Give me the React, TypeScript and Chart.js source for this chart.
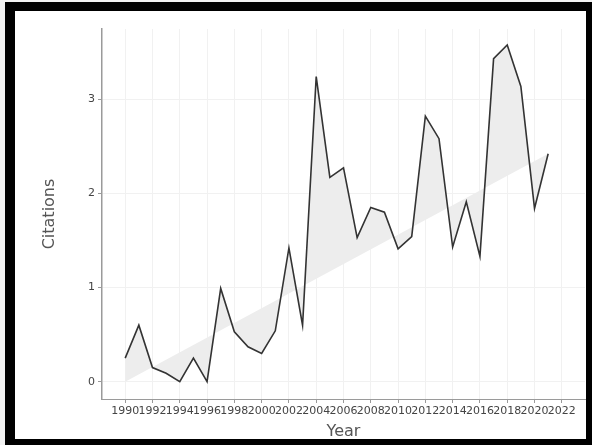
import React, { useEffect, useRef } from "react";
import { Chart, registerables } from "chart.js";

Chart.register(...registerables);

const years = [
  1990, 1991, 1992, 1993, 1994, 1995, 1996, 1997, 1998, 1999, 2000, 2001, 2002, 2003, 2004, 2005,
  2006, 2007, 2008, 2009, 2010, 2011, 2012, 2013, 2014, 2015, 2016, 2017, 2018, 2019, 2020, 2021,
];
const citations = [
  0.25, 0.6, 0.15, 0.09, 0.0, 0.25, 0.0, 0.99, 0.53, 0.37, 0.3, 0.54, 1.42, 0.6, 3.24, 2.17,
  2.27, 1.53, 1.85, 1.8, 1.41, 1.54, 2.82, 2.58, 1.43, 1.91, 1.33, 3.43, 3.575, 3.135, 1.84, 2.42,
];
const trendYears = [1990, 2021];
const trendValues = [0, 2.42];

const xMin = 1988.3;
const xMax = 2023.7;
const yMin = -0.184;
const yMax = 3.745;

export default function App() {
  const ref = useRef<HTMLCanvasElement | null>(null);

  useEffect(() => {
    document.body.style.margin = "0";
    const canvas = ref.current;
    if (!canvas) return;
    const font = "'DejaVu Sans', Verdana, sans-serif";
    const chart = new Chart(canvas, {
      type: "line",
      data: {
        datasets: [
          {
            data: years.map((x, i) => ({ x, y: citations[i] })),
            borderColor: "#333333",
            borderWidth: 1.6,
            pointRadius: 0,
            tension: 0,
            fill: "+1",
            backgroundColor: "#ededed",
          },
          {
            data: trendYears.map((x, i) => ({ x, y: trendValues[i] })),
            borderColor: "rgba(0,0,0,0)",
            borderWidth: 0,
            pointRadius: 0,
            fill: false,
          },
        ],
      },
      options: {
        responsive: false,
        animation: false,
        devicePixelRatio: 1,
        layout: { padding: { left: 36, top: 29, right: 7, bottom: 0 } },
        plugins: { legend: { display: false }, tooltip: { enabled: false } },
        scales: {
          x: {
            type: "linear",
            min: xMin,
            max: xMax,
            afterFit: (axis: any) => {
              axis.height = 46;
            },
            ticks: {
              stepSize: 2,
              includeBounds: false,
              autoSkip: false,
              maxRotation: 0,
              minRotation: 0,
              padding: 2,
              color: "#444444",
              font: { family: font, size: 11 },
              callback: (v: any) => String(v),
            },
            grid: { color: "#f1f1f1", tickColor: "#999999", tickLength: 4, lineWidth: 1 },
            border: { color: "#9a9a9a", width: 1 },
            title: {
              display: true,
              text: "Year",
              color: "#555555",
              font: { family: font, size: 16 },
              padding: { top: 4, bottom: 4 },
            },
          },
          y: {
            min: yMin,
            max: yMax,
            afterFit: (axis: any) => {
              axis.width = 66;
            },
            ticks: {
              stepSize: 1,
              includeBounds: false,
              padding: 3,
              color: "#444444",
              font: { family: font, size: 11 },
              callback: (v: any) => String(v),
            },
            grid: { color: "#f1f1f1", tickColor: "#999999", tickLength: 4, lineWidth: 1 },
            border: { color: "#9a9a9a", width: 1.5 },
            title: {
              display: true,
              text: "Citations",
              color: "#555555",
              font: { family: font, size: 16 },
              padding: { top: 4, bottom: 4 },
            },
          },
        },
      },
    });
    return () => chart.destroy();
  }, []);

  return (
    <div style={{ position: "fixed", left: 0, top: 0, width: 592, height: 445, background: "#f2f2f2" }}>
      <div
        style={{
          position: "absolute",
          left: 5,
          top: 2,
          width: 587,
          height: 443,
          boxSizing: "border-box",
          borderStyle: "solid",
          borderColor: "#000",
          borderWidth: "9px 6px 6px 10px",
          background: "#fff",
        }}
      />
      <canvas
        ref={ref}
        width={592}
        height={445}
        style={{ position: "absolute", left: 0, top: 0, width: 592, height: 445 }}
      />
    </div>
  );
}
